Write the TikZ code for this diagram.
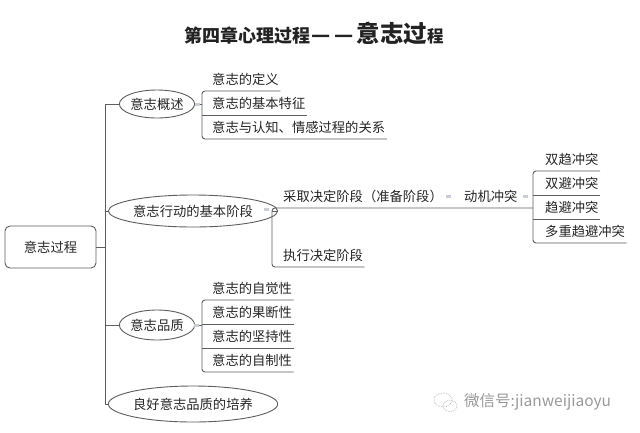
\documentclass[tikz,border=0pt]{standalone}
\usepackage{fontspec}
\newfontfamily\cjk{Noto Sans CJK SC}
\usetikzlibrary{shapes.geometric}
\definecolor{ln}{HTML}{5E5E5E}
\definecolor{tx}{HTML}{262626}
\definecolor{mk}{HTML}{C9CDD6}
\definecolor{wm}{HTML}{9A9A9A}
\begin{document}
\begin{tikzpicture}[x=1pt,y=-1pt,
  line/.style={draw=ln, line width=0.9pt},
  txt/.style={font=\cjk\fontsize{13.3}{14}\selectfont, text=tx},
  item/.style={txt, inner xsep=1.5pt, inner ysep=0pt, text height=11pt, text depth=6pt, anchor=south west},
  oval/.style={ellipse, draw=ln, line width=0.9pt, inner sep=0pt, txt},
  foldmark/.style={fill=mk, draw=none, minimum width=5pt, minimum height=3pt, inner sep=0pt}]
\useasboundingbox (0,0) rectangle (640,432);
\fill[white] (0,0) rectangle (640,432);

% title
\node[text=tx!90!black, anchor=base] (title) at (314,42)
  {\cjk\bfseries{\fontsize{18}{18}\selectfont 第四章心理过程}\hspace{1pt}{\fontsize{21}{21}\selectfont —\hspace{4pt}—}\hspace{3pt}{\fontsize{23.5}{24}\selectfont 意志过}{\fontsize{16.5}{16}\selectfont 程}};

% root
\node[draw=ln, line width=0.9pt, rounded corners=5pt, minimum width=91pt, minimum height=42pt, txt] (root) at (50.5,247) {意志过程};

% trunk coordinates
\coordinate (tr) at (105,0);
\coordinate (br1) at (202,0);
\coordinate (br2) at (272,0);
\coordinate (br3) at (533,0);

% level 1 ellipses
\node[oval, minimum width=70pt, minimum height=28pt] (o1) at (157,104) {意志概述};
\node[oval, minimum width=139pt, minimum height=32pt] (o2) at (193,211) {意志行动的基本阶段};
\node[oval, minimum width=70pt, minimum height=30pt] (o3) at (157,325) {意志品质};
\node[oval, minimum width=139pt, minimum height=36pt] (o4) at (193,404) {良好意志品质的培养};

\draw[line] (root.east) -- (root.east -| tr);
\draw[line] (o1.west) -- (o1.west -| tr) -- (o4.west -| tr) -- (o4.west);
\draw[line] (o2.west) -- (o2.west -| tr);
\draw[line] (o3.west) -- (o3.west -| tr);

% group 1
\node[item] (a1) at (210.5,91) {意志的定义};
\node[item] (a2) at (210.5,115) {意志的基本特征};
\node[item] (a3) at (210.5,139) {意志与认知、情感过程的关系};
\draw[line, rounded corners=3pt] (a1.south east) -- (a1.south west -| br1) -- (a3.south west -| br1) -- (a3.south east);
\draw[line] (a2.south west -| br1) -- (a2.south east);
\draw[line] (o1.east) -- (o1.east -| br1);
\node[foldmark] (m1) at (197,104) {};

% group 2
\node[item] (b1) at (281.5,208) {采取决定阶段（准备阶段）};
\node[item] (b2) at (281.5,267) {执行决定阶段};
\node[item] (c0) at (462.5,208) {动机冲突};
\draw[line, rounded corners=3pt] (c0.south east -| br3) -- (b1.south west -| br2) -- (b2.south west -| br2) -- (b2.south east);
\draw[line] (o2.east) -- (o2.east -| br2);
\node[foldmark] (m2) at (266,209) {};
\node[foldmark] (m3) at (448,196) {};
\node[foldmark] (m4) at (525,196) {};

% group 3
\node[item] (d1) at (543.5,171) {双趋冲突};
\node[item] (d2) at (543.5,195) {双避冲突};
\node[item] (d3) at (543.5,219) {趋避冲突};
\node[item] (d4) at (543.5,243) {多重趋避冲突};
\draw[line, rounded corners=3pt] (d1.south east) -- (d1.south west -| br3) -- (d4.south west -| br3) -- (d4.south east);
\draw[line] (d2.south west -| br3) -- (d2.south east);
\draw[line] (d3.south west -| br3) -- (d3.south east);

% group 4
\node[item] (e1) at (210.5,300) {意志的自觉性};
\node[item] (e2) at (210.5,324) {意志的果断性};
\node[item] (e3) at (210.5,348) {意志的坚持性};
\node[item] (e4) at (210.5,372) {意志的自制性};
\draw[line, rounded corners=3pt] (e1.south east) -- (e1.south west -| br1) -- (e4.south west -| br1) -- (e4.south east);
\draw[line] (e2.south west -| br1) -- (e2.south east);
\draw[line] (e3.south west -| br1) -- (e3.south east);
\draw[line] (o3.east) -- (o3.east -| br1);
\node[foldmark] (m5) at (196,325) {};

% watermark
\draw[wm!70, densely dotted, line width=0.7pt] (443,400) ellipse (9pt and 7pt);
\draw[wm!70, densely dotted, line width=0.7pt] (450,406) ellipse (7pt and 5.5pt);
\node[anchor=west, text=wm, inner sep=0pt, font=\cjk\fontsize{15.5}{15}\selectfont] (wmt) at (464,402) {微信号:jianweijiaoyu};
\end{tikzpicture}
\end{document}
